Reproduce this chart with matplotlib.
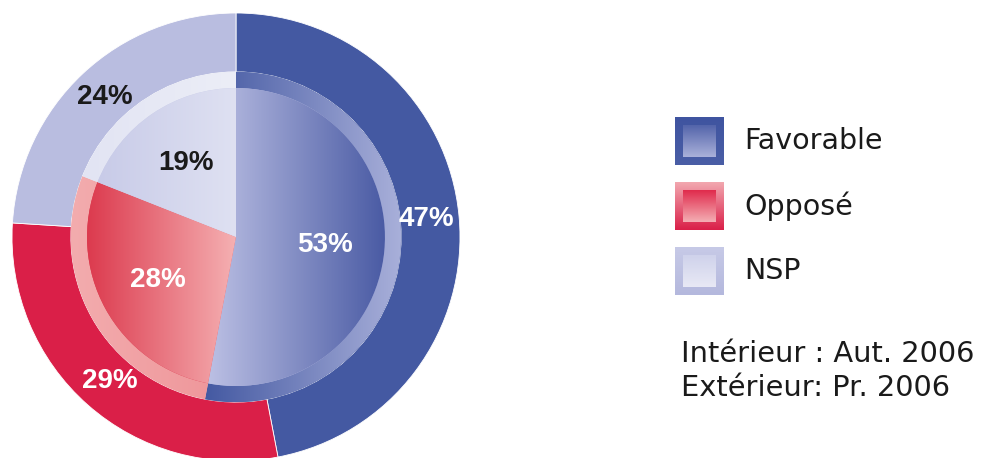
import numpy as np
import matplotlib
matplotlib.use("Agg")
import matplotlib.pyplot as plt
from matplotlib.colors import LinearSegmentedColormap
from matplotlib.patches import Rectangle

# Survey results (inner ring = autumn 2006, outer ring = spring 2006)
categories = ["Favorable", "Opposé", "NSP"]
outer_vals = [47, 29, 24]   # Pr. 2006
inner_vals = [53, 28, 19]   # Aut. 2006
outer_colors = ["#4459a2", "#da1f48", "#b9bde0"]
outer_text = ["white", "white", "#1a1a1a"]
inner_text = ["white", "white", "#1a1a1a"]

# gradient pairs (left -> right) for inner pie and its light rim
inner_grad = [("#bcc0e4", "#4a5ba4"), ("#dc3a4e", "#f5b0b2"), ("#c8cbe8", "#dfe1f2")]
rim_grad = [("#4459a2", "#a9b0da"), ("#f3acae", "#ee9498"), ("#e2e4f3", "#eceef7")]

legend_outer = [("#3f54a0", "#4a5ea6"), ("#f2a8b0", "#da1f48"), ("#c7cae7", "#b4b8dd")]
legend_inner = [("#5364aa", "#aab1da"), ("#e02a4c", "#f4afb4"), ("#cfd2eb", "#e8e9f5")]

pct_font = ["Liberation Sans", "DejaVu Sans"]
txt_font = ["DejaVu Sans"]


def fill_gradient(ax, patch, c0, c1, z, vertical=False, extent=None):
    cmap = LinearSegmentedColormap.from_list("g", [c0, c1])
    g = np.linspace(0, 1, 256)
    grad = g.reshape(-1, 1) if vertical else g.reshape(1, -1)
    if extent is None:
        bb = patch.get_path().get_extents()
        extent = [bb.x0, bb.x1, bb.y0, bb.y1]
    im = ax.imshow(grad, cmap=cmap, extent=extent, aspect="auto",
                   zorder=z, interpolation="bicubic", origin="upper")
    im.set_clip_path(patch)
    return im


fig = plt.figure(figsize=(9.82, 4.58), dpi=100)

# pie axes: centre at (236, 237) px, radius 224 px
ax = fig.add_axes([12 / 982, (458 - 237 - 224) / 458, 448 / 982, 448 / 458])

r_out, r_rim, r_in = 1.0, 0.737, 0.665

w_out, _, t_out = ax.pie(outer_vals, radius=r_out, startangle=90, counterclock=False,
                         colors=outer_colors, autopct=lambda p: f"{round(p)}%",
                         pctdistance=0.855,
                         wedgeprops=dict(width=r_out - r_rim, edgecolor="white",
                                         linewidth=0.6, zorder=1))

w_rim, _ = ax.pie(inner_vals, radius=r_rim, startangle=90, counterclock=False,
                  colors=[c[0] for c in rim_grad],
                  wedgeprops=dict(linewidth=0, zorder=2))
for w, (c0, c1) in zip(w_rim, rim_grad):
    fill_gradient(ax, w, c0, c1, 2.5)

w_in, _, t_in = ax.pie(inner_vals, radius=r_in, startangle=90, counterclock=False,
                       colors=[c[0] for c in inner_grad],
                       autopct=lambda p: f"{round(p)}%", pctdistance=0.6,
                       wedgeprops=dict(linewidth=0, zorder=3))
for w, (c0, c1) in zip(w_in, inner_grad):
    fill_gradient(ax, w, c0, c1, 3.5)

for t, c in zip(t_out, outer_text):
    t.set(color=c, fontsize=20, fontweight="bold", family=pct_font, zorder=10)
for t, c in zip(t_in, inner_text):
    t.set(color=c, fontsize=20, fontweight="bold", family=pct_font, zorder=10)

ax.set_xlim(-1, 1)
ax.set_ylim(-1, 1)
ax.set_aspect("auto")
ax.axis("off")

# legend drawn in pixel coordinates
lax = fig.add_axes([0, 0, 1, 1])
box_y = [117, 182, 247]
for i, name in enumerate(categories):
    y0 = box_y[i]
    outer = Rectangle((675, y0), 49, 48, facecolor=legend_outer[i][0], linewidth=0)
    lax.add_patch(outer)
    fill_gradient(lax, outer, *legend_outer[i], 1, vertical=True,
                  extent=[675, 724, y0 + 48, y0])
    inner = Rectangle((683, y0 + 8), 33, 32, facecolor=legend_inner[i][0],
                      linewidth=0, zorder=2)
    lax.add_patch(inner)
    fill_gradient(lax, inner, *legend_inner[i], 3, vertical=True,
                  extent=[683, 716, y0 + 40, y0 + 8])
    lax.text(744, y0 + 24, name, fontsize=20.5, family=txt_font,
             color="#1a1a1a", va="center", ha="left")

lax.text(681, 354, "Intérieur : Aut. 2006", fontsize=20.8, family=txt_font,
         color="#1a1a1a", va="center", ha="left")
lax.text(681, 388, "Extérieur: Pr. 2006", fontsize=20.8, family=txt_font,
         color="#1a1a1a", va="center", ha="left")

lax.set_xlim(0, 982)
lax.set_ylim(458, 0)
lax.axis("off")

fig.savefig("out.png", dpi=100)
